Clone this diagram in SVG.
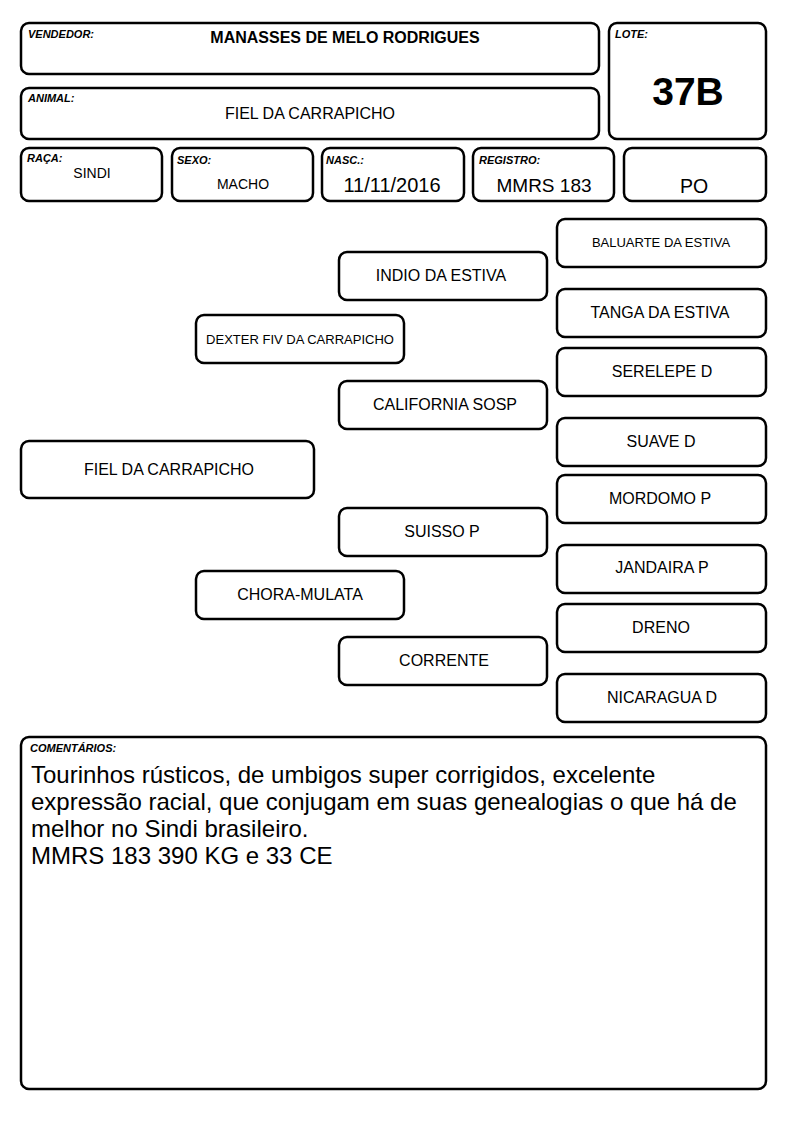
<svg xmlns="http://www.w3.org/2000/svg" width="794" height="1123" viewBox="0 0 794 1123">
<style>
.b{fill:#fff;stroke:#000;stroke-width:2.5}
.lab{font-family:"Liberation Sans",Arial,sans-serif;font-weight:bold;font-style:italic;font-size:11px;fill:#000}
.t{font-family:"Liberation Sans",Arial,sans-serif;fill:#000;text-anchor:middle}
.n{font-size:16px}
.s{font-size:13px}
.c{font-family:"Liberation Sans",Arial,sans-serif;font-size:24px;fill:#000}
</style>
<rect width="794" height="1123" fill="#fff"/>
<g id="header">
<g id="vendedor"><rect class="b" x="21" y="23" width="578" height="51" rx="8"/><text class="lab" x="28" y="38">VENDEDOR:</text><text class="t" x="345" y="43" font-size="16" font-weight="bold">MANASSES DE MELO RODRIGUES</text></g>
<g id="animal"><rect class="b" x="21" y="88" width="578" height="51" rx="8"/><text class="lab" x="28" y="102">ANIMAL:</text><text class="t n" x="310" y="119">FIEL DA CARRAPICHO</text></g>
<g id="lote"><rect class="b" x="609" y="23" width="157" height="116" rx="8"/><text class="lab" x="615" y="38">LOTE:</text><text class="t" x="688" y="105" font-size="39" font-weight="bold">37B</text></g>
<g id="raca"><rect class="b" x="21" y="148" width="141" height="53" rx="8"/><text class="lab" x="27" y="162">RAÇA:</text><text class="t" x="92" y="178" font-size="14">SINDI</text></g>
<g id="sexo"><rect class="b" x="172" y="148" width="141" height="53" rx="8"/><text class="lab" x="177" y="164">SEXO:</text><text class="t" x="243" y="189" font-size="14">MACHO</text></g>
<g id="nasc"><rect class="b" x="322" y="148" width="142" height="53" rx="8"/><text class="lab" x="326" y="164">NASC.:</text><text class="t" x="392" y="192" font-size="20">11/11/2016</text></g>
<g id="registro"><rect class="b" x="473" y="148" width="141" height="53" rx="8"/><text class="lab" x="479" y="164">REGISTRO:</text><text class="t" x="544" y="192" font-size="19">MMRS 183</text></g>
<g id="po"><rect class="b" x="624" y="148" width="142" height="53" rx="8"/><text class="t" x="694" y="193" font-size="19.5">PO</text></g>
</g>
<g id="connectors"></g>
<g id="pedigree">
<g id="n-fiel"><rect class="b" x="21" y="441" width="293" height="57" rx="8"/><text class="t n" x="169" y="475">FIEL DA CARRAPICHO</text></g>
<g id="n-dexter"><rect class="b" x="196" y="315" width="208" height="48" rx="8"/><text class="t s" x="300" y="344">DEXTER FIV DA CARRAPICHO</text></g>
<g id="n-chora"><rect class="b" x="196" y="571" width="208" height="48" rx="8"/><text class="t n" x="300" y="600">CHORA-MULATA</text></g>
<g id="n-indio"><rect class="b" x="339" y="252" width="208" height="48" rx="8"/><text class="t n" x="441" y="281">INDIO DA ESTIVA</text></g>
<g id="n-california"><rect class="b" x="339" y="381" width="208" height="48" rx="8"/><text class="t n" x="445" y="410">CALIFORNIA SOSP</text></g>
<g id="n-suisso"><rect class="b" x="339" y="508" width="208" height="48" rx="8"/><text class="t n" x="442" y="537">SUISSO P</text></g>
<g id="n-corrente"><rect class="b" x="339" y="637" width="208" height="48" rx="8"/><text class="t n" x="444" y="666">CORRENTE</text></g>
<g id="n-baluarte"><rect class="b" x="557" y="219" width="209" height="48" rx="8"/><text class="t s" x="661" y="247">BALUARTE DA ESTIVA</text></g>
<g id="n-tanga"><rect class="b" x="557" y="289" width="209" height="48" rx="8"/><text class="t n" x="660" y="318">TANGA DA ESTIVA</text></g>
<g id="n-serelepe"><rect class="b" x="557" y="348" width="209" height="48" rx="8"/><text class="t n" x="662" y="377">SERELEPE D</text></g>
<g id="n-suave"><rect class="b" x="557" y="418" width="209" height="48" rx="8"/><text class="t n" x="661" y="447">SUAVE D</text></g>
<g id="n-mordomo"><rect class="b" x="557" y="475" width="209" height="48" rx="8"/><text class="t n" x="660" y="504">MORDOMO P</text></g>
<g id="n-jandaira"><rect class="b" x="557" y="545" width="209" height="48" rx="8"/><text class="t n" x="662" y="573">JANDAIRA P</text></g>
<g id="n-dreno"><rect class="b" x="557" y="604" width="209" height="48" rx="8"/><text class="t n" x="661" y="633">DRENO</text></g>
<g id="n-nicaragua"><rect class="b" x="557" y="674" width="209" height="48" rx="8"/><text class="t n" x="662" y="703">NICARAGUA D</text></g>
</g>
<g id="comentarios"><rect class="b" x="21" y="737" width="745" height="352" rx="8"/><text class="lab" x="30" y="752">COMENTÁRIOS:</text>
<text class="c" x="31" y="783">Tourinhos rústicos, de umbigos super corrigidos, excelente</text>
<text class="c" x="31" y="810">expressão racial, que conjugam em suas genealogias o que há de</text>
<text class="c" x="31" y="837">melhor no Sindi brasileiro.</text>
<text class="c" x="31" y="864">MMRS 183 390 KG e 33 CE</text>
</g>
</svg>
